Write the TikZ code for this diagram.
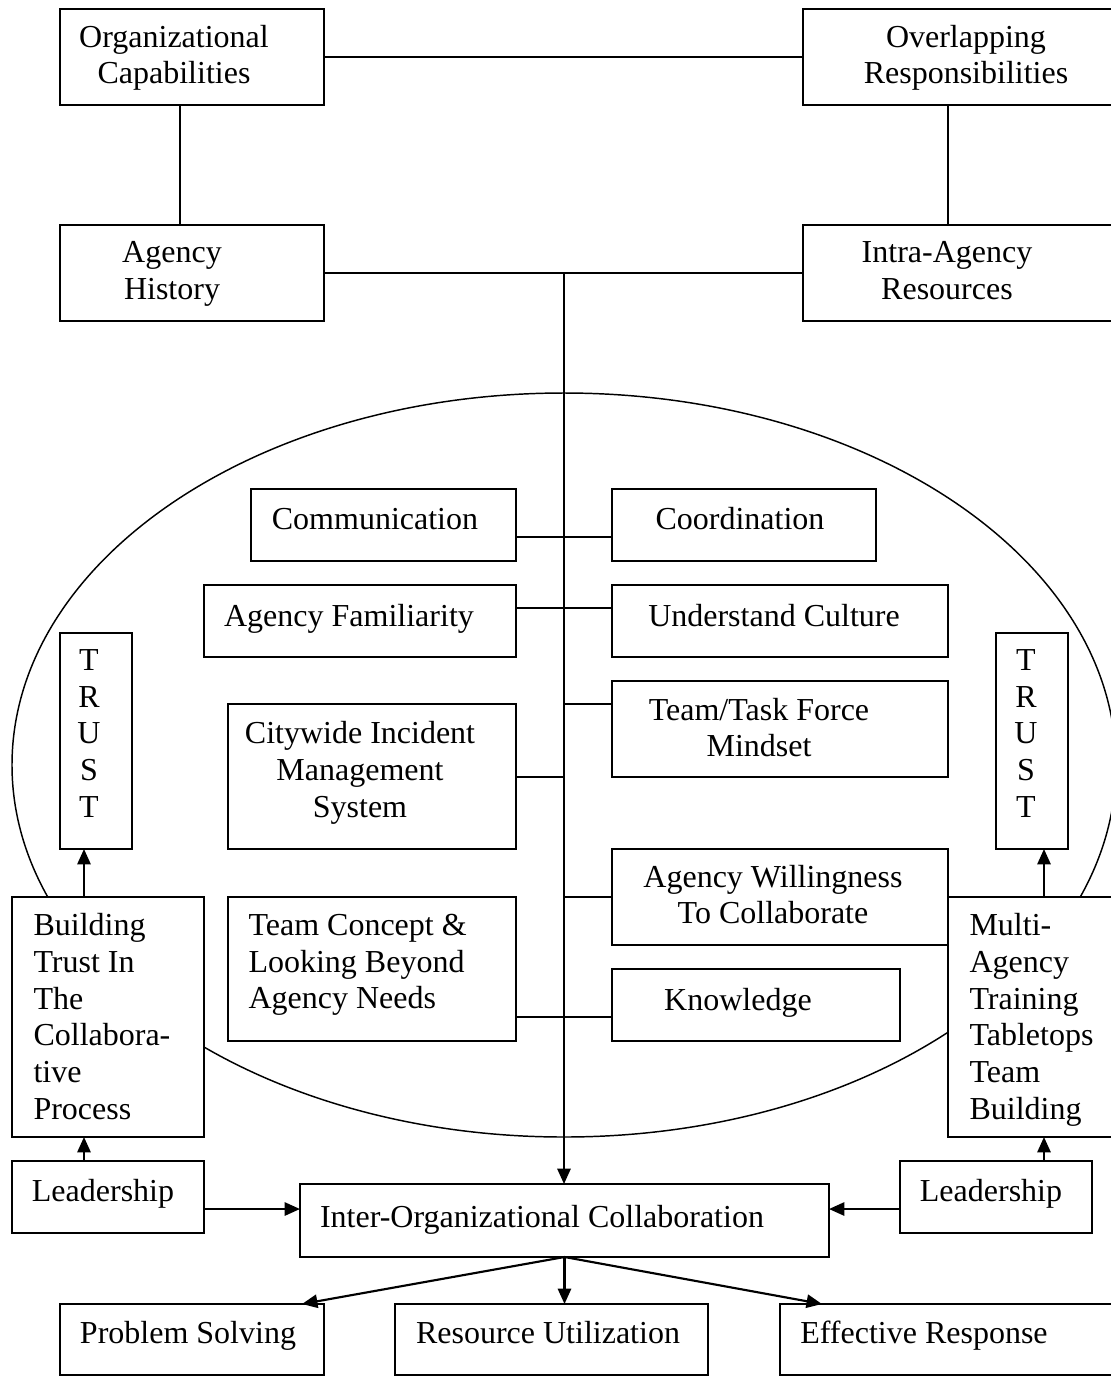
\documentclass[tikz,border=0pt]{standalone}
\usepackage{fontspec}
\setmainfont{Liberation Serif}
\usetikzlibrary{fit,arrows.meta}
\begin{document}
\begin{tikzpicture}[x=0.375pt,y=-0.375pt,
 box/.style={draw,line width=0.9pt,fill=white,inner sep=0pt,outer sep=0pt},
 txt/.style={inner sep=0pt,font=\fontsize{12pt}{13.8pt}\selectfont,align=center,
   execute at begin node=\strut, execute at end node=\strut},
 ltxt/.style={txt,align=left,anchor=west},
 conn/.style={line width=0.8pt},
 arr/.style={conn,-{Triangle[length=5.8pt,width=5pt]}},
]
\path[use as bounding box] (0,0) rectangle (1111,1377);
\clip (0,0) rectangle (1111,1377);
% ellipse
\draw[line width=0.55pt] (564,765) ellipse [x radius=552, y radius=372];
% boxes
\node[box, fit={(60,9) (324,105)}] (oc) {};
\node[box, fit={(803,9) (1130,105)}] (or) {};
\node[box, fit={(60,225) (324,321)}] (ah) {};
\node[box, fit={(803,225) (1130,321)}] (ir) {};
\node[box, fit={(251,489) (516,561)}] (com) {};
\node[box, fit={(612,489) (876,561)}] (coo) {};
\node[box, fit={(204,585) (516,657)}] (af) {};
\node[box, fit={(612,585) (948,657)}] (uc) {};
\node[box, fit={(612,681) (948,777)}] (ttf) {};
\node[box, fit={(228,704) (516,849)}] (cims) {};
\node[box, fit={(612,849) (948,945)}] (aw) {};
\node[box, fit={(228,897) (516,1041)}] (tc) {};
\node[box, fit={(612,969) (900,1041)}] (kn) {};
\node[box, fit={(60,633) (132,849)}] (trl) {};
\node[box, fit={(996,633) (1068,849)}] (trr) {};
\node[box, fit={(12,897) (204,1137)}] (bt) {};
\node[box, fit={(948,897) (1130,1137)}] (ma) {};
\node[box, fit={(12,1161) (204,1233)}] (ldl) {};
\node[box, fit={(900,1161) (1092,1233)}] (ldr) {};
\node[box, fit={(300,1184) (829,1257)}] (ioc) {};
\node[box, fit={(60,1304) (324,1375)}] (ps) {};
\node[box, fit={(395,1304) (708,1375)}] (ru) {};
\node[box, fit={(780,1304) (1130,1375)}] (er) {};
% helper coordinates
\coordinate (xa) at (180,0);
\coordinate (xb) at (948,0);
\coordinate (sp) at (564,272);
\coordinate (xl) at (84,0);
\coordinate (xr) at (1044,0);
\coordinate (xps) at (302,0);
\coordinate (xer) at (822,0);
\coordinate (y1) at (0,537);
\coordinate (y2) at (0,608);
\coordinate (y3) at (0,704);
\coordinate (y4) at (0,777);
\coordinate (y5) at (0,897);
\coordinate (y6) at (0,1017);
\coordinate (y7) at (0,1209);
% connectors
\draw[conn] (oc.east) -- (or.west);
\draw[conn] (oc.south -| xa) -- (ah.north -| xa);
\draw[conn] (or.south -| xb) -- (ir.north -| xb);
\draw[conn] (ah.east) -- (ir.west);
\draw[arr] (sp) -- (sp |- ioc.north);
\draw[conn] (com.east |- y1) -- (coo.west |- y1);
\draw[conn] (af.east |- y2) -- (uc.west |- y2);
\draw[conn] (sp |- y3) -- (ttf.west |- y3);
\draw[conn] (cims.east |- y4) -- (sp |- y4);
\draw[conn] (sp |- y5) -- (aw.west |- y5);
\draw[conn] (tc.east |- y6) -- (kn.west |- y6);
\draw[arr] (bt.north -| xl) -- (trl.south -| xl);
\draw[arr] (ldl.north -| xl) -- (bt.south -| xl);
\draw[arr] (ma.north -| xr) -- (trr.south -| xr);
\draw[arr] (ldr.north -| xr) -- (ma.south -| xr);
\draw[arr] (ldl.east |- y7) -- (ioc.west |- y7);
\draw[arr] (ldr.west |- y7) -- (ioc.east |- y7);
\draw[arr] (ioc.south) -- (ps.north -| xps);
\draw[arr] (ioc.south) -- (ioc.south |- ru.north);
\draw[arr] (ioc.south) -- (er.north -| xer);
% texts
\node[txt] (oct) at (174,60) {Organizational\\Capabilities};
\node[txt] (ort) at (966,60) {Overlapping\\Responsibilities};
\node[txt] (aht) at (172,276) {Agency\\History};
\node[txt] (irt) at (947,276) {Intra-Agency\\Resources};
\node[txt] (comt) at (375,522) {Communication};
\node[txt] (coot) at (740,522) {Coordination};
\node[txt] (aft) at (349,619) {Agency Familiarity};
\node[txt] (uct) at (774,619) {Understand Culture};
\node[txt] (ttft) at (759,733) {Team/Task Force\\Mindset};
\node[txt] (cimst) at (360,775) {Citywide Incident\\Management\\System};
\node[txt] (awt) at (773,900) {Agency Willingness\\To Collaborate};
\node[ltxt] (tct) at (248,967) {Team Concept \&\\Looking Beyond\\Agency Needs};
\node[txt] (knt) at (738,1003) {Knowledge};
\node[txt] (trlt) at (89,739) {T\\R\\U\\S\\T};
\node[txt] (trrt) at (1026,739) {T\\R\\U\\S\\T};
\node[ltxt] (btt) at (33,1022) {Building\\Trust In\\The\\Collabora-\\tive\\Process};
\node[ltxt] (mat) at (969,1022) {Multi-\\Agency\\Training\\Tabletops\\Team\\Building};
\node[txt] (ldlt) at (103,1194) {Leadership};
\node[txt] (ldrt) at (991,1194) {Leadership};
\node[txt] (ioct) at (542,1220) {Inter-Organizational Collaboration};
\node[txt] (pstx) at (188,1336) {Problem Solving};
\node[txt] (rutx) at (548,1336) {Resource Utilization};
\node[txt] (ertx) at (924,1336) {Effective Response};
\end{tikzpicture}
\end{document}
